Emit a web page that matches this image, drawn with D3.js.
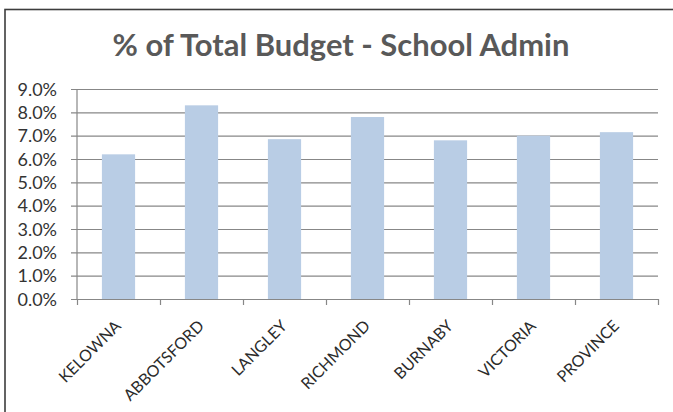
<!DOCTYPE html>
<html>
<head>
<meta charset="utf-8">
<script src="https://cdn.jsdelivr.net/npm/d3@7"></script>
<style>
  html, body { margin: 0; padding: 0; background: #fff; }
  svg { display: block; }
</style>
</head>
<body>
<svg id="chart" width="673" height="412"></svg>
<script>
// Share of total budget spent on school administration, by district
const categories = ["KELOWNA", "ABBOTSFORD", "LANGLEY", "RICHMOND", "BURNABY", "VICTORIA", "PROVINCE"];
const adminShare = [0.062, 0.083, 0.0685, 0.078, 0.068, 0.070, 0.0715];
const yTicks = [0, 0.01, 0.02, 0.03, 0.04, 0.05, 0.06, 0.07, 0.08, 0.09];
const titleText = "% of Total Budget - School Admin";

const svg = d3.select("#chart");
const W = 673, H = 412;
const margin = { left: 77, right: 15, top: 89, bottom: 113 };
const plotW = W - margin.left - margin.right;
const plotH = H - margin.top - margin.bottom;

const font = "Lato, 'Open Sans', sans-serif";
const gridColor = "#878787";

// chart frame
svg.append("rect")
  .attr("x", 5).attr("y", 9.5)
  .attr("width", W + 20).attr("height", H + 20)
  .attr("fill", "#fff")
  .attr("stroke", "#3d3d3d")
  .attr("stroke-width", 1.6);

// title, sized to span its slot
const title = svg.append("text")
  .attr("x", 341).attr("y", 56)
  .attr("text-anchor", "middle")
  .attr("font-family", font)
  .attr("font-weight", "bold")
  .attr("fill", "#595959")
  .attr("font-size", 32)
  .text(titleText);
const tw = title.node().getComputedTextLength();
title.attr("font-size", 32 * 457 / tw);

const g = svg.append("g").attr("transform", `translate(${margin.left},${margin.top})`);

const x = d3.scaleBand()
  .domain(categories)
  .range([0, plotW])
  .paddingInner(0.6)
  .paddingOuter(0.3);

const y = d3.scaleLinear()
  .domain([0, 0.09])
  .range([plotH, 0]);

// horizontal gridlines with short outer ticks and percentage labels
const yAxis = g.append("g")
  .call(d3.axisLeft(y)
    .tickValues(yTicks)
    .tickFormat(d3.format(".1%"))
    .tickSize(-plotW)
    .tickPadding(20));
yAxis.select(".domain").remove();
yAxis.selectAll(".tick line")
  .attr("x1", -6)
  .attr("stroke", gridColor)
  .attr("stroke-width", 1.2);
yAxis.selectAll(".tick text")
  .attr("font-family", font)
  .attr("font-size", 18)
  .attr("fill", "#333")
  .attr("dy", "0.34em");

// bars
g.selectAll("rect.bar")
  .data(categories)
  .join("rect")
  .attr("class", "bar")
  .attr("x", d => x(d))
  .attr("width", x.bandwidth())
  .attr("y", (d, i) => y(adminShare[i]))
  .attr("height", (d, i) => plotH - y(adminShare[i]))
  .attr("fill", "#b9cde5");

// vertical axis line
g.append("line")
  .attr("x1", 0).attr("x2", 0)
  .attr("y1", 0).attr("y2", plotH)
  .attr("stroke", gridColor)
  .attr("stroke-width", 1.2);

// category axis: ticks between categories
const xEdges = d3.scaleLinear().domain([0, categories.length]).range([0, plotW]);
const xTickAxis = g.append("g")
  .attr("transform", `translate(0,${plotH})`)
  .call(d3.axisBottom(xEdges)
    .tickValues(d3.range(categories.length + 1))
    .tickFormat("")
    .tickSize(6)
    .tickSizeOuter(0));
xTickAxis.select(".domain").attr("stroke", gridColor).attr("stroke-width", 1.2);
xTickAxis.selectAll(".tick line").attr("stroke", gridColor).attr("stroke-width", 1.2);

// rotated category labels
const xLabelAxis = g.append("g")
  .attr("transform", `translate(0,${plotH})`)
  .call(d3.axisBottom(x).tickSize(0).tickPadding(0));
xLabelAxis.select(".domain").remove();
xLabelAxis.selectAll(".tick text")
  .attr("font-family", font)
  .attr("font-size", 16)
  .attr("fill", "#2b2b2b")
  .attr("text-anchor", "end")
  .attr("dy", 0)
  .attr("transform", "translate(3.5,28) rotate(-45)");
</script>
</body>
</html>
